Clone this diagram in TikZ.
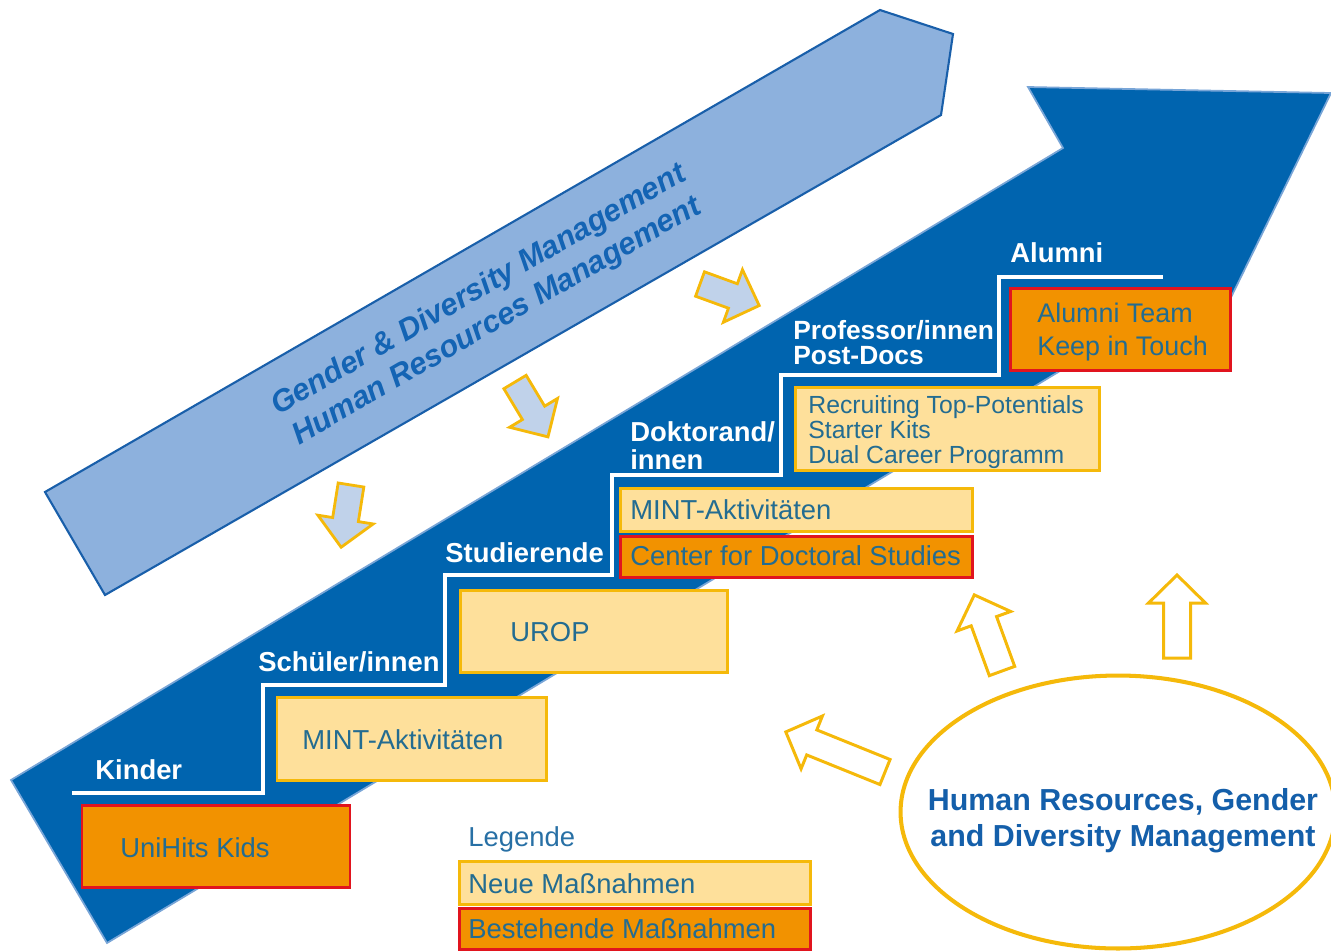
\documentclass[tikz,border=0pt]{standalone}
\usepackage{fontspec}
\setmainfont{Liberation Sans}
\usetikzlibrary{shapes.geometric}
\definecolor{bandblue}{RGB}{0,100,175}
\definecolor{bandedge}{RGB}{120,165,215}
\definecolor{bannerfill}{RGB}{141,177,221}
\definecolor{banneredge}{RGB}{25,95,170}
\definecolor{bannertext}{RGB}{20,100,180}
\definecolor{newfill}{RGB}{254,224,155}
\definecolor{newedge}{RGB}{245,185,10}
\definecolor{oldfill}{RGB}{242,146,0}
\definecolor{oldedge}{RGB}{225,20,30}
\definecolor{boxtext}{RGB}{35,108,145}
\definecolor{legtext}{RGB}{40,112,165}
\definecolor{arrowfill}{RGB}{192,210,234}
\definecolor{elltext}{RGB}{20,95,170}
\newcommand{\dgBoxFont}{\fontsize{15.6}{18}\selectfont}
\newcommand{\dgLblFont}{\fontsize{15.6}{18}\selectfont\bfseries}
\begin{document}
\begin{tikzpicture}[x=0.02cm,y=-0.02cm,
  lbl/.style={anchor=west, inner sep=0pt, text=white, font=\dgLblFont},
  btxt/.style={anchor=west, inner sep=0pt, text=boxtext, font=\dgBoxFont},
  newbox/.style={draw=newedge, fill=newfill, line width=1.7pt},
  oldbox/.style={draw=oldedge, fill=oldfill, line width=1.7pt},
  stairline/.style={draw=white, line width=2.5pt, line join=miter},
  pics/smallarr/.style={code={\draw[draw=newedge, fill=arrowfill, line width=1.6pt, line join=miter]
     (0,-13) -- (#1-28,-13) -- (#1-28,-28) -- (#1,0) -- (#1-28,28) -- (#1-28,13) -- (0,13) -- cycle;}},
  pics/ringarr/.style={code={\draw[draw=newedge, fill=white, line width=1.7pt, line join=miter]
     (0,-13.5) -- (#1-28,-13.5) -- (#1-28,-28.5) -- (#1,0) -- (#1-28,28.5) -- (#1-28,13.5) -- (0,13.5) -- cycle;}}
]
\useasboundingbox (0,0) rectangle (1331,951);

% top banner
\draw[draw=banneredge, fill=bannerfill, line width=1.2pt, line join=miter]
  (45,492) -- (880,10) -- (953,34) -- (941,115) -- (105,595) -- cycle;
\node[rotate=30, align=center, inner sep=0pt, text=bannertext,
      font={\fontsize{17.5}{20.5}\selectfont\bfseries\itshape}] (banner) at (488,306)
  {Gender \& Diversity Management\\Human Resources Management};

% big blue arrow
\draw[fill=bandblue, draw=bandedge, line width=1pt, line join=miter]
  (11,780) -- (1063,148) -- (1028,87) -- (1331,93) -- (1215,330) -- (1065,368) -- (107,943) -- cycle;

% staircase
\draw[stairline] (72,793) -- (263,793) -- (263,685) -- (445,685) -- (445,575) -- (612,575)
  -- (612,475) -- (781,475) -- (781,375) -- (999,375) -- (999,277) -- (1163,277);

% boxes
\draw[oldbox] (82,805) rectangle (350,887);
\draw[newbox] (277,697) rectangle (546,780);
\draw[newbox] (460,590) rectangle (727,672);
\draw[newbox] (620,488) rectangle (972,531);
\draw[oldbox] (620,536) rectangle (972,577);
\draw[newbox] (795,387) rectangle (1099,470);
\draw[oldbox] (1010,288) rectangle (1230,370);
\draw[newbox] (459,861) rectangle (810,904);
\draw[oldbox] (459,908) rectangle (810,949);

% stage labels
\node[lbl] (kinder) at (95,770) {Kinder};
\node[lbl] (schueler) at (258,662) {Schüler/innen};
\node[lbl] (stud) at (445,553) {Studierende};
\node[lbl, align=left, font={\fontsize{15.6}{15.9}\selectfont\bfseries}] (dok) at (630,446) {Doktorand/\\innen};
\node[lbl, align=left, font={\fontsize{15}{14.2}\selectfont\bfseries}] (prof) at (793,343) {Professor/innen\\Post-Docs};
\node[lbl] (alumni) at (1010,253) {Alumni};

% box texts
\node[btxt] (unihits) at (120,848) {UniHits Kids};
\node[btxt] (mint1) at (302,740) {MINT-Aktivitäten};
\node[btxt] (urop) at (510,632) {UROP};
\node[btxt] (mint2) at (630,510) {MINT-Aktivitäten};
\node[btxt] (cds) at (630,556) {Center for Doctoral Studies};
\node[btxt, align=left, font={\fontsize{14.1}{14.2}\selectfont}] (recr) at (808,432)
  {Recruiting Top-Potentials\\Starter Kits\\Dual Career Programm};
\node[btxt, align=left, font={\fontsize{15.3}{18.8}\selectfont}] (alteam) at (1037,332)
  {Alumni Team\\Keep in Touch};

% legend
\node[btxt, text=legtext] (legende) at (468,839) {Legende};
\node[btxt] (neue) at (468,884) {Neue Maßnahmen};
\node[btxt] (best) at (468,929) {Bestehende Maßnahmen};

% small arrows from banner
\pic[rotate=-99] at (351,485) {smallarr=63};
\pic[rotate=-59] at (515,382) {smallarr=64};
\pic[rotate=-20] at (700,284) {smallarr=63};

% ellipse and its arrows
\node[ellipse, draw=newedge, line width=2.3pt, fill=white, minimum width=8.7cm, minimum height=5.46cm, inner sep=0pt] (hrell) at (1118,812) {};
\node[align=center, inner sep=0pt, text=elltext, font={\fontsize{17.3}{20.5}\selectfont\bfseries}] (hrtext) at (1123,821)
  {Human Resources, Gender\\and Diversity Management};
\pic[rotate=158] at (885,772) {ringarr=107};
\pic[rotate=110] at (1002,671) {ringarr=81};
\pic[rotate=90] at (1177,658) {ringarr=83};
\end{tikzpicture}
\end{document}
